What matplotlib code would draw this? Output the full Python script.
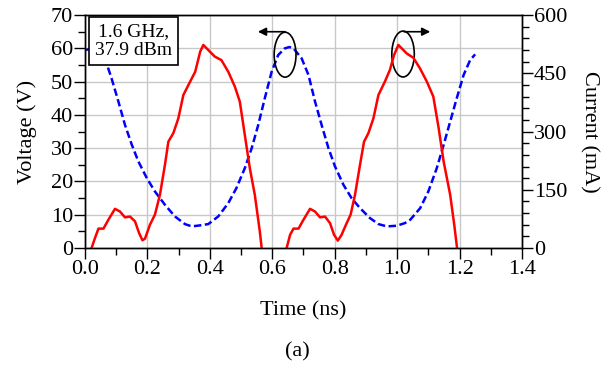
import numpy as np
import matplotlib.pyplot as plt
from matplotlib.patches import Ellipse
from matplotlib.ticker import MultipleLocator

plt.rcParams['font.family'] = ['Liberation Serif', 'DejaVu Serif']

# Voltage (blue dashed, left axis)
t_v = [0.003, 0.025, 0.045, 0.069, 0.085, 0.107, 0.128, 0.15, 0.171, 0.198, 0.224,
       0.256, 0.288, 0.32, 0.342, 0.368, 0.395, 0.427, 0.459, 0.485, 0.512, 0.534,
       0.555, 0.576, 0.598, 0.619, 0.64, 0.655, 0.668, 0.694, 0.716, 0.737, 0.758,
       0.78, 0.801, 0.828, 0.854, 0.881, 0.913, 0.94, 0.967, 0.999, 1.025, 1.042,
       1.074, 1.1, 1.127, 1.149, 1.17, 1.191, 1.213, 1.234, 1.25]
volt = [59.5, 60.2, 59.0, 55.5, 51.0, 44.0, 37.0, 31.0, 26.0, 21.0, 17.0,
        13.0, 9.5, 7.2, 6.5, 6.8, 7.2, 9.5, 13.5, 18.0, 24.0, 30.0,
        37.0, 45.0, 53.0, 58.0, 60.0, 60.4, 60.0, 57.0, 52.0, 44.0, 37.0,
        30.0, 24.5, 19.0, 15.0, 12.0, 9.0, 7.2, 6.5, 6.7, 7.5, 8.5,
        12.0, 17.0, 24.0, 31.0, 38.0, 45.0, 52.0, 56.5, 58.2]

# Current (red solid, right axis), first cycle
t_i1 = [0.021, 0.032, 0.043, 0.059, 0.075, 0.096, 0.112, 0.128, 0.144, 0.16, 0.173,
        0.184, 0.192, 0.208, 0.224, 0.24, 0.256, 0.267, 0.283, 0.299, 0.315, 0.337,
        0.353, 0.369, 0.379, 0.395, 0.416, 0.437, 0.459, 0.48, 0.496, 0.512, 0.528,
        0.544, 0.56, 0.566]
cur1 = [0, 26, 50, 50, 73, 101, 94, 79, 81, 69, 39,
        20, 24, 60, 86, 137, 214, 274, 296, 334, 394, 429,
        454, 506, 523, 510, 493, 484, 454, 416, 377, 291, 206,
        137, 43, 0]

# Current, second cycle
t_i2 = [0.646, 0.657, 0.668, 0.684, 0.70, 0.721, 0.737, 0.753, 0.769, 0.785, 0.798,
        0.81, 0.822, 0.836, 0.851, 0.865, 0.881, 0.894, 0.908, 0.924, 0.94, 0.961,
        0.977, 0.99, 1.004, 1.02, 1.031, 1.052, 1.073, 1.095, 1.116, 1.133, 1.149,
        1.17, 1.183, 1.192]
cur2 = [0, 34, 50, 50, 73, 101, 94, 79, 81, 64, 34,
        19, 34, 60, 86, 137, 214, 274, 296, 334, 394, 429,
        459, 497, 523, 510, 501, 490, 463, 429, 390, 309, 223,
        137, 60, 0]

fig = plt.figure(figsize=(6.13, 3.68), dpi=100)
ax = fig.add_axes([0.1387, 0.326, 0.7128, 0.633])
ax2 = ax.twinx()

ax.plot(t_v, volt, '--', color='#0000ff', lw=1.8, dashes=(3.0, 1.4))
ax2.plot(t_i1, cur1, '-', color='#ff0000', lw=1.8)
ax2.plot(t_i2, cur2, '-', color='#ff0000', lw=1.8)

ax.set_xlim(0, 1.4)
ax.set_ylim(0, 70)
ax2.set_ylim(0, 600)
ax.xaxis.set_major_locator(MultipleLocator(0.2))
ax.xaxis.set_minor_locator(MultipleLocator(0.1))
ax.yaxis.set_major_locator(MultipleLocator(10))
ax.yaxis.set_minor_locator(MultipleLocator(5))
ax2.yaxis.set_major_locator(MultipleLocator(150))
ax2.yaxis.set_minor_locator(MultipleLocator(30))
ax.set_xticks(ax.get_xticks())
ax.set_xticklabels([f'{v:.1f}' for v in ax.get_xticks()])
ax.set_xlim(0, 1.4)
ax.grid(True, color='#c8c8c8', lw=1)

for a in (ax, ax2):
    a.tick_params(which='major', direction='out', length=8, width=1, labelsize=16, pad=0.5)
    a.tick_params(which='minor', direction='out', length=5, width=1)
    for s in a.spines.values():
        s.set_linewidth(1)

ax.set_xlabel('Time (ns)', fontsize=16, labelpad=16)
ax.set_ylabel('Voltage (V)', fontsize=16, labelpad=10)
ax2.set_ylabel('Current (mA)', fontsize=16, rotation=270, labelpad=23)

ax.text(0.155, 62.3, '1.6 GHz,\n37.9 dBm', fontsize=14, ha='center', va='center',
        linespacing=1.15, zorder=6,
        bbox=dict(boxstyle='square,pad=0.3', fc='white', ec='black', lw=1.2))

ax.add_patch(Ellipse((0.641, 58.1), 0.07, 13.5, fill=False, ec='black', lw=1.2, zorder=5))
ax.add_patch(Ellipse((1.019, 58.3), 0.072, 13.8, fill=False, ec='black', lw=1.2, zorder=5))
ax.annotate('', xy=(0.545, 65.0), xytext=(0.65, 65.0),
            arrowprops=dict(arrowstyle='-|>', color='black', lw=1.2, mutation_scale=12))
ax.annotate('', xy=(1.115, 65.0), xytext=(1.013, 65.0),
            arrowprops=dict(arrowstyle='-|>', color='black', lw=1.2, mutation_scale=12))

fig.text(0.4845, 0.043, '(a)', fontsize=16, ha='center', va='center')

fig.savefig('out.png', dpi=100)
